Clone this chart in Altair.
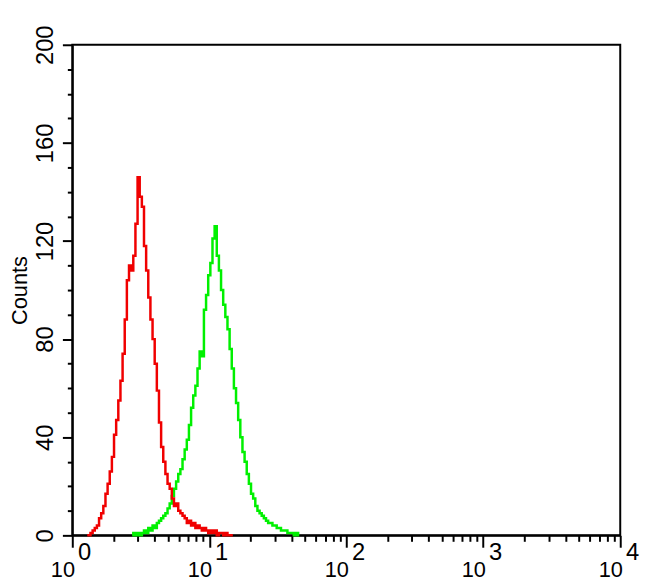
import altair as alt
import pandas as pd

# Flow cytometry histogram: channel (1024 channels over 4 decades) and counts
red_channels = [28, 32, 36, 40, 44, 48, 52, 56, 60, 64,
                68, 72, 76, 80, 84, 88, 92, 96, 100, 104,
                108, 112, 116, 120, 124, 128, 132, 136, 140, 144,
                148, 152, 156, 160, 164, 168, 172, 176, 180, 184,
                188, 192, 196, 200, 204, 208, 212, 216, 220, 224,
                228, 232, 236, 240, 244, 248, 252, 256, 260, 264,
                268, 272, 276, 280, 284, 288, 292, 296, 300]
red_counts = [0, 0, 1, 2, 3, 4, 7, 9, 12, 17,
              21, 26, 32, 41, 47, 55, 63, 74, 88, 104,
              110, 108, 114, 127, 146, 138, 134, 118, 108, 97,
              88, 80, 70, 59, 46, 36, 30, 25, 21, 19,
              15, 12, 13, 10, 9, 8, 7, 5, 6, 4,
              5, 3, 4, 3, 2, 3, 2, 1, 2, 1,
              2, 0, 1, 1, 0, 1, 0, 0, 0]

green_channels = [112, 116, 120, 124, 128, 132, 136, 140, 144, 148,
                  152, 156, 160, 164, 168, 172, 176, 180, 184, 188,
                  192, 196, 200, 204, 208, 212, 216, 220, 224, 228,
                  232, 236, 240, 244, 248, 252, 256, 260, 264, 268,
                  272, 276, 280, 284, 288, 292, 296, 300, 304, 308,
                  312, 316, 320, 324, 328, 332, 336, 340, 344, 348,
                  352, 356, 360, 364, 368, 372, 376, 380, 384, 388,
                  392, 396, 400, 404, 408, 412, 416, 420, 424]
green_counts = [0, 1, 0, 1, 0, 1, 2, 1, 3, 2,
                4, 3, 5, 6, 7, 8, 9, 11, 13, 16,
                19, 22, 25, 27, 31, 35, 39, 45, 52, 57,
                61, 68, 75, 73, 92, 98, 106, 111, 121, 126,
                114, 108, 100, 94, 89, 84, 76, 68, 60, 54,
                47, 40, 34, 30, 25, 21, 17, 15, 12, 10,
                9, 8, 7, 6, 5, 5, 4, 4, 3, 3,
                2, 2, 2, 1, 1, 1, 0, 1, 0]

y_major = [0, 40, 80, 120, 160, 200]
y_minor = [10, 20, 30, 50, 60, 70, 90, 100, 110, 130, 140, 150, 170, 180, 190]
x_major = [1, 10, 100, 1000, 10000]
x_exp_pos = [1.0001, 10, 100, 1000, 10000]
x_minor = [2, 3, 4, 5, 6, 7, 8, 9,
           20, 30, 40, 50, 60, 70, 80, 90,
           200, 300, 400, 500, 600, 700, 800, 900,
           2000, 3000, 4000, 5000, 6000, 7000, 8000, 9000]
x_base = "10"
x_exponents = ["0", "1", "2", "3", "4"]

CHANNELS_PER_DECADE = 256

def make_df(channels, counts):
    return pd.DataFrame({
        "fl": [10 ** (c / CHANNELS_PER_DECADE) for c in channels],
        "count": counts,
    })

gdf = make_df(green_channels, green_counts)
rdf = make_df(red_channels, red_counts)

FONT = "Liberation Sans, Arial, sans-serif"
FONT_N = "Liberation Sans Narrow, Liberation Sans, Arial, sans-serif"

xs = alt.Scale(type="log", domain=[1, 10000], nice=False)
ys = alt.Scale(domain=[0, 200], nice=False, zero=True)

exp_expr = ""
for v, e in zip(x_major[:-1], x_exponents[:-1]):
    exp_expr += f"datum.value < {v * 3} ? '{e}' : "
exp_expr += f"'{x_exponents[-1]}'"

x_axis_major = alt.Axis(values=x_major, labelExpr=f"'{x_base}'", orient="bottom",
                        tickSize=12, tickWidth=2, tickColor="black",
                        domainColor="black", domainWidth=2,
                        labelFont=FONT_N, labelFontSize=22, labelColor="black",
                        labelOffset=-10, labelPadding=13, labelBaseline="top",
                        labelFlush=False, labelOverlap=False,
                        grid=False, title=None)
x_axis_minor = alt.Axis(values=x_minor, labels=False, orient="bottom",
                        tickSize=6, tickWidth=2, tickColor="black",
                        domain=False, grid=False, title=None)
x_axis_exp = alt.Axis(values=x_exp_pos, labelExpr=exp_expr, orient="bottom",
                      ticks=True, tickSize=1, tickOpacity=0,
                      domain=False, grid=False, title=None,
                      labelFont=FONT_N, labelFontSize=24, labelColor="black",
                      labelOffset=12, labelPadding=4, labelBaseline="top",
                      labelFlush=False, labelOverlap=False)

y_axis_major = alt.Axis(values=y_major, orient="left",
                        tickSize=10, tickWidth=2, tickColor="black",
                        domainColor="black", domainWidth=2,
                        labelFont=FONT, labelFontSize=24, labelColor="black",
                        labelAngle=270, labelAlign="center", labelBaseline="alphabetic",
                        labelPadding=10, labelFlush=False, labelOverlap=False,
                        grid=False, title="Counts", titleFont=FONT,
                        titleFontSize=22, titleFontWeight="normal",
                        titleColor="black", titlePadding=2)
y_axis_minor = alt.Axis(values=y_minor, labels=False, orient="left",
                        tickSize=5, tickWidth=2, tickColor="black",
                        domain=False, grid=False, title=None)

green = alt.Chart(gdf).mark_line(color="#00f000", strokeWidth=2.5, interpolate="step").encode(
    x=alt.X("fl:Q", scale=xs, axis=x_axis_major),
    y=alt.Y("count:Q", scale=ys, axis=y_axis_major),
)
red = alt.Chart(rdf).mark_line(color="#f00000", strokeWidth=2.5, interpolate="step").encode(
    x=alt.X("fl:Q", scale=xs, axis=x_axis_minor),
    y=alt.Y("count:Q", scale=ys, axis=y_axis_minor),
)
exp_layer = alt.Chart(rdf).mark_point(opacity=0).encode(
    x=alt.X("fl:Q", scale=xs, axis=x_axis_exp),
    y=alt.Y("count:Q", scale=ys, axis=None),
)

chart = alt.layer(green, red, exp_layer).resolve_axis(
    x="independent", y="independent"
).properties(
    width=554, height=496,
    autosize="none",
    padding={"left": 65, "top": 34, "right": 22, "bottom": 46},
    background="white",
).configure_view(stroke="black", strokeWidth=2)

chart.save("out.html", embed_options={"renderer": "svg", "actions": False})
